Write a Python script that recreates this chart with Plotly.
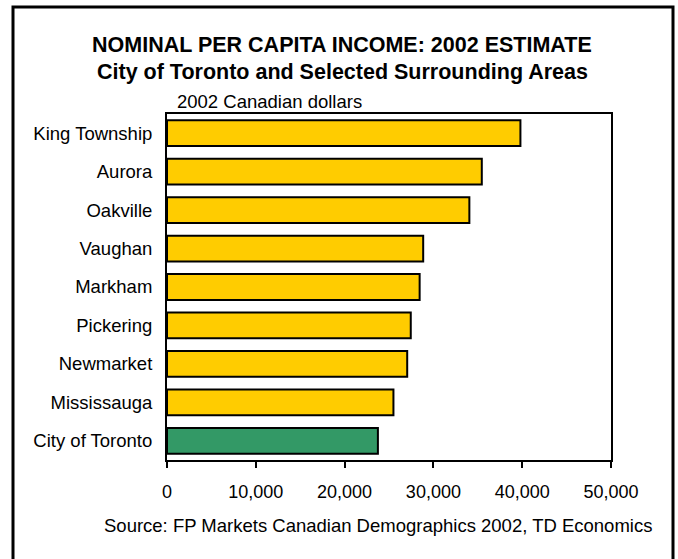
import plotly.graph_objects as go

# Per capita income by municipality, 2002 estimate (Canadian dollars)
areas = ["King Township", "Aurora", "Oakville", "Vaughan", "Markham",
         "Pickering", "Newmarket", "Mississauga", "City of Toronto"]
income = [39800, 35450, 34050, 28850, 28450, 27450, 27050, 25500, 23750]
bar_colors = ["#FFCC00"] * 8 + ["#339966"]

x_ticks = [0, 10000, 20000, 30000, 40000, 50000]
x_tick_labels = ["0", "10,000", "20,000", "30,000", "40,000", "50,000"]

W, H = 678, 559
ML, MR, MT, MB = 167, 67, 114, 99
PW, PH = W - ML - MR, H - MT - MB


def px(x):
    return (x - ML) / PW


def py(y):
    return 1 - (y - MT) / PH


FONT = "Liberation Sans, Arial, sans-serif"

fig = go.Figure(
    go.Bar(
        y=areas,
        x=income,
        orientation="h",
        marker=dict(color=bar_colors, line=dict(color="black", width=2)),
        width=0.67,
        hoverinfo="x+y",
    )
)

fig.update_layout(
    width=W,
    height=H,
    margin=dict(l=ML, r=MR, t=MT, b=MB),
    paper_bgcolor="white",
    plot_bgcolor="white",
    showlegend=False,
    font=dict(family=FONT, size=18, color="black"),
    xaxis=dict(
        range=[0, 50000],
        tickvals=x_ticks,
        ticktext=x_tick_labels,
        ticks="outside",
        ticklen=6,
        tickwidth=2,
        tickcolor="black",
        showgrid=False,
        zeroline=False,
        showline=True,
        linecolor="black",
        linewidth=2,
        mirror=True,
        ticklabelstandoff=8,
        tickfont=dict(size=18),
        fixedrange=True,
    ),
    yaxis=dict(
        autorange="reversed",
        showgrid=False,
        showline=True,
        linecolor="black",
        linewidth=2,
        mirror=True,
        ticks="",
        ticklabelstandoff=9,
        tickfont=dict(size=18.5),
        fixedrange=True,
    ),
    shapes=[
        dict(
            type="rect", xref="paper", yref="paper",
            x0=px(13), x1=px(673), y0=py(7), y1=py(H + 10),
            line=dict(color="black", width=3),
            fillcolor="rgba(0,0,0,0)", layer="below",
        )
    ],
    annotations=[
        dict(text="<b>NOMINAL PER CAPITA INCOME: 2002 ESTIMATE</b>",
             xref="paper", yref="paper", x=px(342), y=py(45),
             xanchor="center", yanchor="middle", showarrow=False,
             font=dict(size=21.5)),
        dict(text="<b>City of Toronto and Selected Surrounding Areas</b>",
             xref="paper", yref="paper", x=px(342), y=py(72),
             xanchor="center", yanchor="middle", showarrow=False,
             font=dict(size=21.5)),
        dict(text="2002 Canadian dollars",
             xref="paper", yref="paper", x=px(175), y=py(102),
             xanchor="left", yanchor="middle", showarrow=False,
             font=dict(size=18.5)),
        dict(text="Source: FP Markets Canadian Demographics 2002, TD Economics",
             xref="paper", yref="paper", x=px(378), y=py(525),
             xanchor="center", yanchor="middle", showarrow=False,
             font=dict(size=18.5)),
    ],
)

fig.write_html("out.html")
